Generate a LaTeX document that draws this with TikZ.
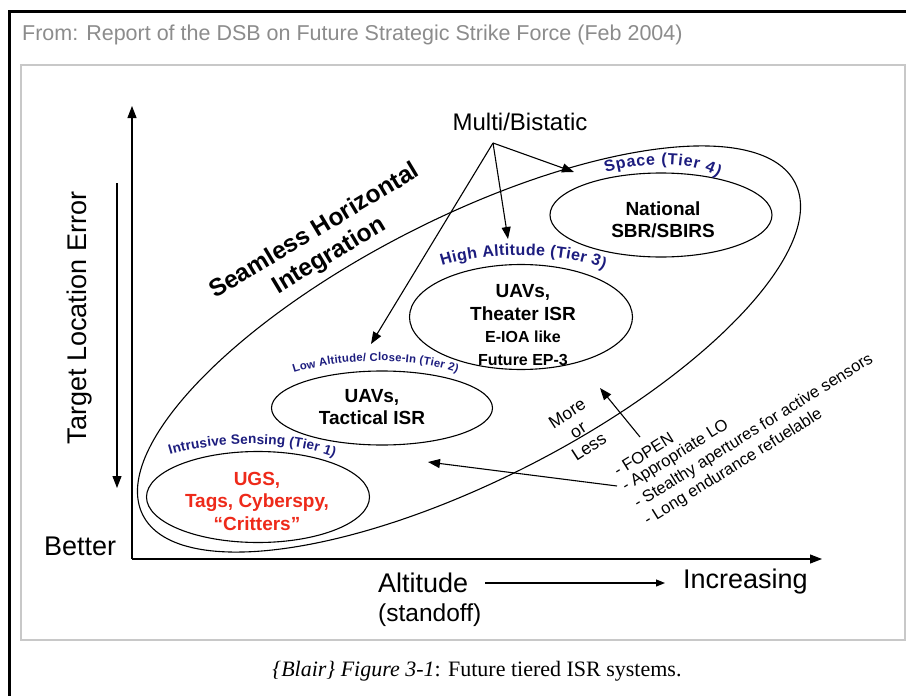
\documentclass[tikz,border=0pt]{standalone}
\usepackage{fontspec}
\setmainfont{Liberation Sans}
\newfontfamily\capfont{Liberation Serif}
\usetikzlibrary{arrows.meta,shapes.geometric,decorations.text}
\definecolor{tiercol}{HTML}{1C1C7E}
\definecolor{redtxt}{HTML}{EE2A1A}
\definecolor{hdrgray}{HTML}{8C8C8C}
\definecolor{boxgray}{HTML}{C8C8C8}
\begin{document}
\begin{tikzpicture}[x=1pt,y=-1pt,
  lbl/.style={inner sep=0pt, font=\fontsize{27}{32}\selectfont},
  tierell/.style={ellipse, draw, line width=1.1pt, inner sep=0pt},
  boldtxt/.style={inner sep=0pt, align=center, font=\bfseries\fontsize{19}{22.5}\selectfont},
  arr/.style={-{Triangle[length=12pt,width=9pt]}, line width=1.1pt},
  listtxt/.style={inner sep=0pt, anchor=base west, rotate=32, font=\fontsize{16.5}{20}\selectfont},
  tierlbl/.style={decorate, decoration={text along path, text align=fit to path}}]
\useasboundingbox (0,0) rectangle (906,696);
\fill[white] (0,0) rectangle (906,696);
% frame
\draw[line width=3pt] (9,696) -- (9,11) -- (906,11);
\draw[boxgray, line width=1.5pt] (21,65) rectangle (905,640);
\node[anchor=base west, text=hdrgray, inner sep=0pt, font=\fontsize{21.5}{26}\selectfont] (hdr) at (22,40) {From: Report of the DSB on Future Strategic Strike Force (Feb 2004)};
% axes
\coordinate (origin) at (132,559);
\coordinate (ytop) at (132,106);
\coordinate (xend) at (822,559);
\draw[line width=1.1pt, -{Triangle[length=12pt,width=9pt]}] (origin) -- (ytop);
\draw[line width=1.1pt, -{Triangle[length=12pt,width=9pt]}] (origin) -- (xend);
\coordinate (dtop) at (117,183);
\coordinate (dbot) at (117,488);
\draw[arr] (dtop) -- (dbot);
\node[lbl, rotate=90] (tle) at (80,318) {Target Location Error};
\node[lbl, anchor=base west] (better) at (44,555) {Better};
\node[lbl, anchor=base west] (alt) at (378,592) {Altitude};
\node[lbl, anchor=base west, font=\fontsize{24.5}{29}\selectfont] (stand) at (378,621) {(standoff)};
\node[lbl, anchor=base west] (incr) at (683,588) {Increasing};
\coordinate (alta) at (485,583);
\coordinate (altb) at (665,583);
\draw[line width=1.1pt, -{Triangle[length=9pt,width=7pt]}] (alta) -- (altb);
% outer curve (seamless integration envelope)
\draw[line width=1.1pt, rotate around={27:(469,349)}] (469,349) ellipse [x radius=366, y radius=131];
% tier ellipses
\node[tierell, minimum width=222pt, minimum height=84pt] (e4) at (661,215) {};
\node[boldtxt] (t4) at (663,220) {National\\SBR/SBIRS};
\node[tierell, minimum width=223pt, minimum height=105pt] (e3) at (521,317) {};
\node[boldtxt] (t3) at (523,325) {UAVs,\\Theater ISR\\{\fontsize{16}{19}\selectfont E-IOA like}\\{\fontsize{16}{19}\selectfont Future EP-3}};
\node[tierell, minimum width=221pt, minimum height=74pt] (e2) at (382,408) {};
\node[boldtxt] (t2) at (372,407) {UAVs,\\Tactical ISR};
\node[tierell, minimum width=223pt, minimum height=91pt] (e1) at (258,497) {};
\node[boldtxt, text=redtxt] (t1) at (257,501) {UGS,\\Tags, Cyberspy,\\``Critters''};
% tier labels
\path[tierlbl, decoration={text={|\bfseries\fontsize{16}{19}\selectfont\color{tiercol}|Space (Tier 4)}}] (606,173) .. controls (640,162) and (690,160) .. (718,177);
\path[tierlbl, decoration={text={|\bfseries\fontsize{16}{19}\selectfont\color{tiercol}|High Altitude (Tier 3)}}] (442,266) .. controls (485,252) and (560,250) .. (604,269);
\path[tierlbl, decoration={text={|\bfseries\fontsize{11.3}{14}\selectfont\color{tiercol}|Low Altitude/ Close-In (Tier 2)}}] (294,373) .. controls (340,358) and (410,356) .. (457,373);
\path[tierlbl, decoration={text={|\bfseries\fontsize{13.6}{16}\selectfont\color{tiercol}|Intrusive Sensing (Tier 1)}}] (170,455) .. controls (220,440) and (290,440) .. (334,457);
% seamless
\node[inner sep=0pt, align=center, rotate=31, font=\bfseries\fontsize{24.5}{28.5}\selectfont] (shi) at (322,244) {Seamless Horizontal\\Integration};
% multi/bistatic
\node[inner sep=0pt, anchor=base, font=\fontsize{24}{28}\selectfont] (mb) at (520,130) {Multi/Bistatic};
\coordinate (mbo) at (493,143);
\coordinate (a4) at (574,172);
\coordinate (a3) at (508,239);
\coordinate (a2) at (371,344);
\draw[arr] (mbo) -- (a4);
\draw[arr] (mbo) -- (a3);
\draw[arr] (mbo) -- (a2);
% more or less
\node[inner sep=0pt, align=center, rotate=33, font=\fontsize{17.5}{20}\selectfont] (mol) at (578,430) {More\\or\\Less};
% list
\node[listtxt] (l1) at (618,477) {- FOPEN};
\node[listtxt] (l2) at (626,492) {- Appropriate LO};
\node[listtxt] (l3) at (638,509) {- Stealthy apertures for active sensors};
\node[listtxt] (l4) at (648,526) {- Long endurance refuelable};
\coordinate (ls1) at (617,486);
\coordinate (t1tip) at (428,462);
\coordinate (ls2) at (640,437);
\coordinate (t3tip) at (600,388);
\draw[arr] (ls1) -- (t1tip);
\draw[arr] (ls2) -- (t3tip);
% caption
\node[anchor=base, inner sep=0pt, font=\capfont\fontsize{22}{26}\selectfont] (cap) at (477,676) {\textit{\{Blair\} Figure 3-1}: Future tiered ISR systems.};
\end{tikzpicture}
\end{document}
